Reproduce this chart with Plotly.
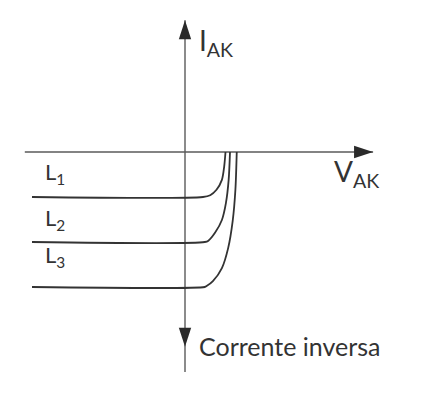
import plotly.graph_objects as go

# Reverse-current curves (V_AK, I_AK) in arbitrary units
l1_v = [-3.40, 0.40, 0.56, 0.70, 0.82, 0.87, 0.90]
l1_i = [-1.00, -1.00, -0.96, -0.84, -0.62, -0.33, 0.00]
l2_v = [-3.40, 0.44, 0.52, 0.67, 0.82, 0.91, 0.97, 1.00]
l2_i = [-2.00, -2.00, -1.97, -1.79, -1.51, -1.13, -0.62, 0.00]
l3_v = [-3.40, 0.44, 0.48, 0.62, 0.82, 0.96, 1.06, 1.12, 1.15]
l3_i = [-3.00, -3.00, -2.98, -2.87, -2.58, -2.13, -1.53, -0.84, 0.00]

curve_names = ["L<sub>1</sub>", "L<sub>2</sub>", "L<sub>3</sub>"]
label_i = [-0.46, -1.49, -2.32]

# axis extents
h_axis_v = [-3.56, 4.18]
v_axis_i = [2.93, -4.89]
down_tip_i = -4.33

TXT = "#333333"
FONT = "Lato"

fig = go.Figure()

# axes lines
fig.add_trace(go.Scatter(x=h_axis_v, y=[0, 0], mode="lines",
                         line=dict(color="#5a5a5a", width=1.4), hoverinfo="skip"))
fig.add_trace(go.Scatter(x=[0, 0], y=v_axis_i, mode="lines",
                         line=dict(color="#5a5a5a", width=1.4), hoverinfo="skip"))
# arrow heads
fig.add_trace(go.Scatter(x=[0, h_axis_v[1], 0], y=[v_axis_i[0], 0, down_tip_i],
                         mode="markers",
                         marker=dict(symbol="arrow", size=20, angle=[0, 90, 180],
                                     color="#2a2a2a", line=dict(width=0)),
                         hoverinfo="skip"))

for v, i in [(l1_v, l1_i), (l2_v, l2_i), (l3_v, l3_i)]:
    fig.add_trace(go.Scatter(x=v, y=i, mode="lines",
                             line=dict(color="#333333", width=1.8, shape="spline", smoothing=0.8),
                             hoverinfo="skip"))

for name, yi in zip(curve_names, label_i):
    fig.add_annotation(x=-3.15, y=yi, text=name, showarrow=False, xanchor="left", yanchor="middle",
                       font=dict(family=FONT, size=22, color=TXT))

fig.add_annotation(x=0.26, y=2.45, text="I<sub>AK</sub>", showarrow=False, xanchor="left",
                   yanchor="middle", font=dict(family=FONT, size=28, color=TXT))
fig.add_annotation(x=3.26, y=-0.47, text="V<sub>AK</sub>", showarrow=False, xanchor="left",
                   yanchor="middle", font=dict(family=FONT, size=28, color=TXT))
fig.add_annotation(x=0.26, y=-4.32, text="Corrente inversa", showarrow=False, xanchor="left",
                   yanchor="middle", font=dict(family=FONT, size=25, color=TXT))

fig.update_layout(
    width=433, height=412, margin=dict(l=0, r=0, t=0, b=0),
    paper_bgcolor="white", plot_bgcolor="white", showlegend=False,
    xaxis=dict(range=[-185/45, (433-185)/45], visible=False, fixedrange=True),
    yaxis=dict(range=[-(412-152)/45, 152/45], visible=False, fixedrange=True),
)

fig.write_html("out.html", config={"displayModeBar": False},
               post_script="document.body.style.margin='0px';")
